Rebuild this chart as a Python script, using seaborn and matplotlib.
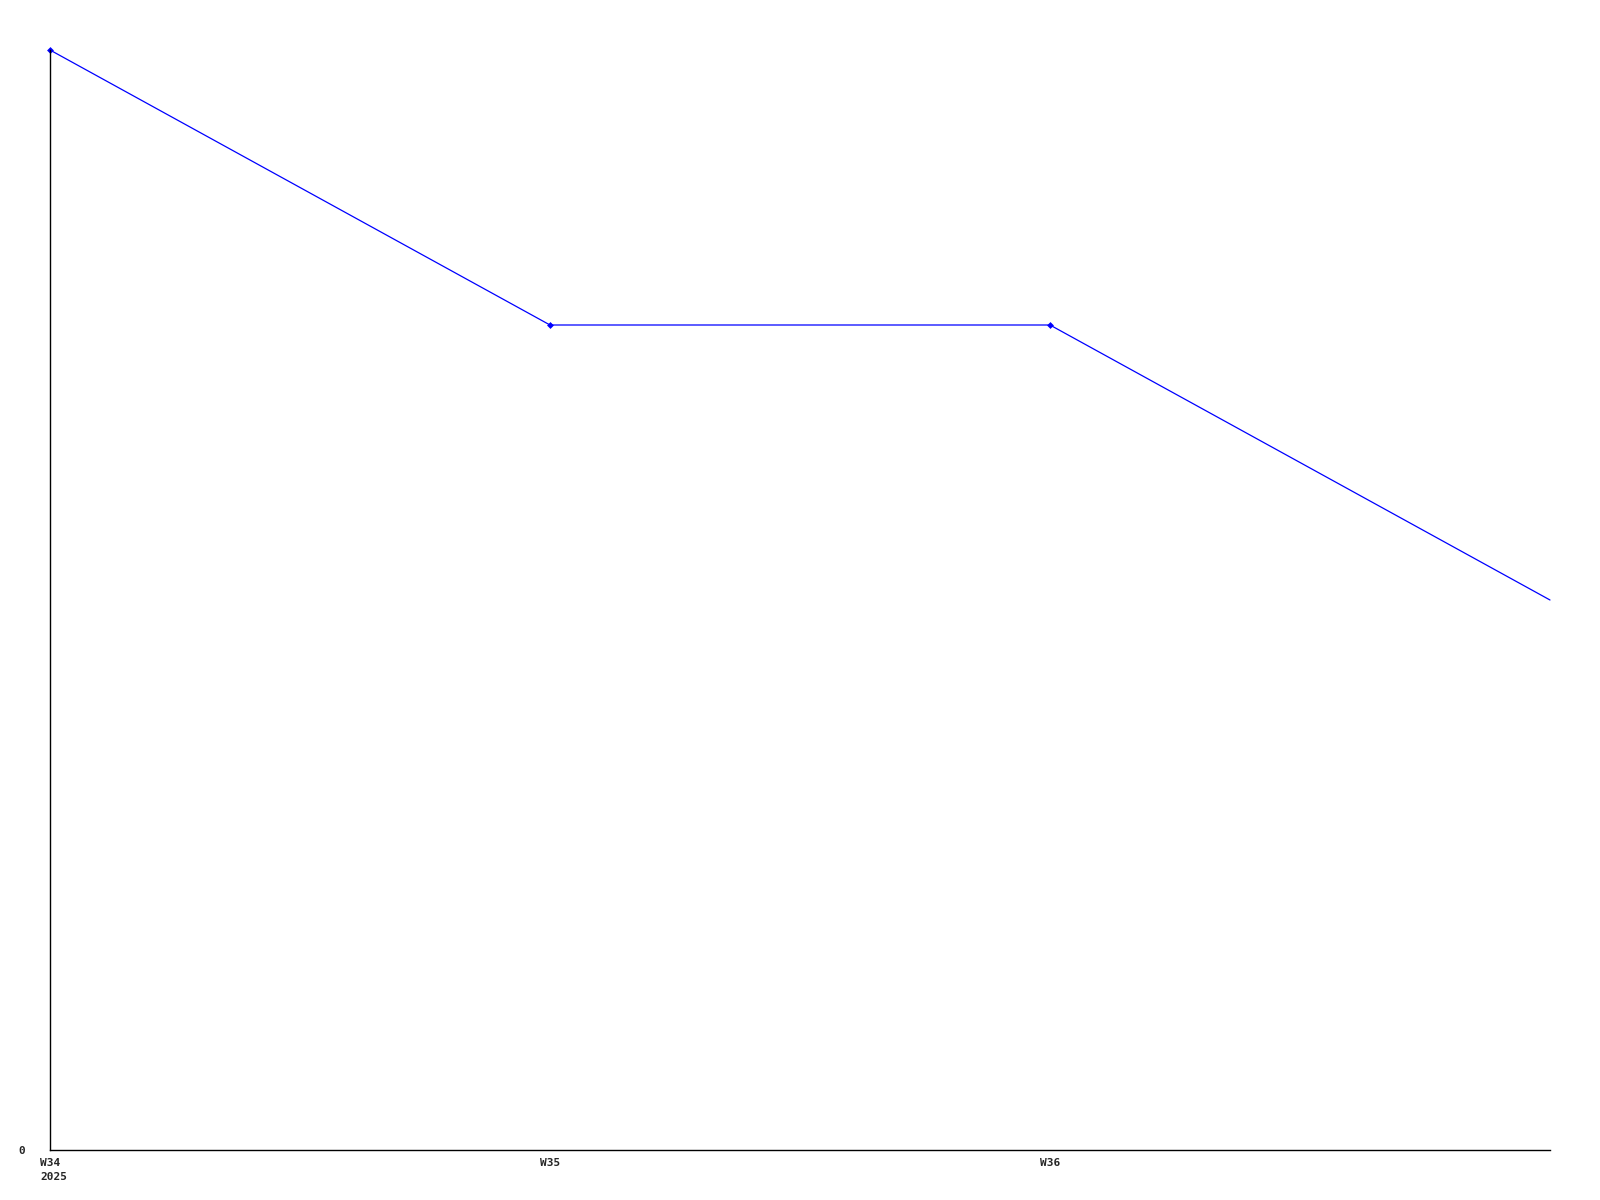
import seaborn as sns
import matplotlib.pyplot as plt
import matplotlib.transforms as mtransforms
import pandas as pd

weeks = ["W34\n2025", "W35", "W36", "W37"]
values = [4, 3, 3, 2]
y_ticks = [0]

df = pd.DataFrame({"pos": range(len(values)), "value": values})

sns.set_style("white")
plt.rcParams["font.family"] = ["DejaVu Sans Mono", "DejaVu Sans"]

fig = plt.figure(figsize=(16, 12), dpi=100)
ax = fig.add_axes([50 / 1600, 50 / 1200, 1500 / 1600, 1100 / 1200])

sns.lineplot(
    data=df,
    x="pos",
    y="value",
    ax=ax,
    color="#0000FF",
    linewidth=0.9,
    marker="D",
    markersize=3.5,
    markeredgewidth=0,
    markevery=[0, 1, 2],
    clip_on=False,
)

ax.set_xlim(0, len(values) - 1)
ax.set_ylim(0, max(values))
ax.set_xticks(range(len(weeks) - 1))
ax.set_xticklabels(weeks[:-1], linespacing=1.5)
ax.set_yticks(y_ticks)
ax.set_yticklabels([str(t) for t in y_ticks])
ax.tick_params(axis="x", length=0, pad=6, labelsize=8)
ax.tick_params(axis="y", length=0, pad=18, labelsize=8)
for lbl in ax.get_xticklabels() + ax.get_yticklabels():
    lbl.set_fontweight("bold")

# first label block sits left-aligned, a bit left of its tick
first = ax.get_xticklabels()[0]
first.set_horizontalalignment("left")
first.set_transform(first.get_transform() + mtransforms.ScaledTranslation(-10 / 100, 0, fig.dpi_scale_trans))

ax.set_xlabel("")
ax.set_ylabel("")
sns.despine(ax=ax)
for side in ["left", "bottom"]:
    ax.spines[side].set_color("black")
    ax.spines[side].set_linewidth(1)

fig.savefig("out.png", dpi=100)
